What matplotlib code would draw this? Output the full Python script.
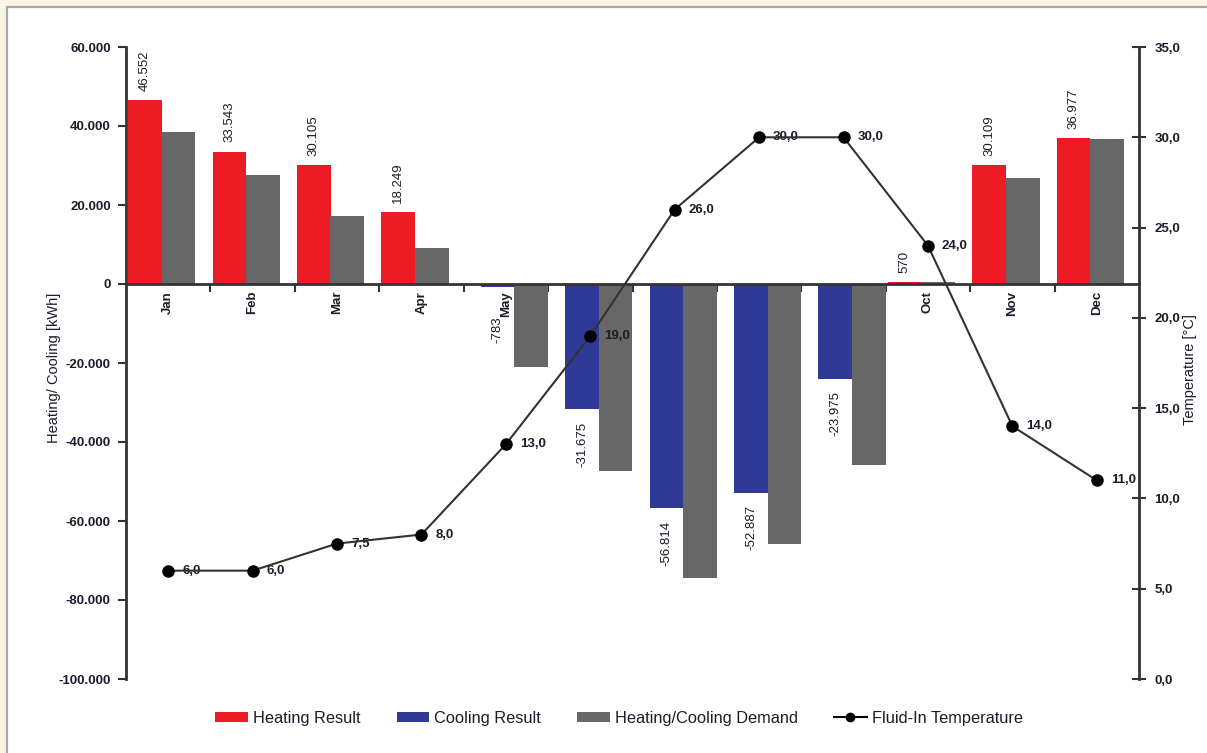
import numpy as np
import matplotlib
matplotlib.use("Agg")
import matplotlib.pyplot as plt
from matplotlib.patches import Rectangle, Patch
from matplotlib.lines import Line2D
from matplotlib.ticker import FuncFormatter, FixedLocator

# ---------------- data ----------------
months = ['Jan', 'Feb', 'Mar', 'Apr', 'May', 'June', 'July', 'Aug', 'Sept', 'Oct', 'Nov', 'Dec']
heating_result = [46552, 33543, 30105, 18249, np.nan, np.nan, np.nan, np.nan, np.nan, 570, 30109, 36977]
heating_demand = [38500, 27600, 17300, 9200, np.nan, np.nan, np.nan, np.nan, np.nan, 500, 26900, 36600]
cooling_result = [np.nan, np.nan, np.nan, np.nan, -783, -31675, -56814, -52887, -23975, np.nan, np.nan, np.nan]
cooling_demand = [np.nan, np.nan, np.nan, np.nan, -21000, -47300, -74400, -65700, -45800, np.nan, np.nan, np.nan]
temperature = [6.0, 6.0, 7.5, 8.0, 13.0, 19.0, 26.0, 30.0, 30.0, 24.0, 14.0, 11.0]
left_ticks = [-100000, -80000, -60000, -40000, -20000, 0, 20000, 40000, 60000]
right_ticks = [0, 5, 10, 15, 20, 25, 30, 35]

# ---------------- style ----------------
RED = '#ED1C24'
BLUE = '#2E3A95'
GRAY = '#676767'
TXT = '#1c1c2c'
FONT = 'Liberation Sans'
plt.rcParams['font.family'] = [FONT, 'DejaVu Sans']

W, H = 1207, 753
fig = plt.figure(figsize=(W / 100, H / 100), dpi=100)
fig.patch.set_facecolor('#FDF5E4')
fig.patches.append(Rectangle((7 / W, -0.05), 1.1, 1 - 7 / H + 0.05, transform=fig.transFigure,
                             facecolor='white', edgecolor='#a9a9a9', lw=1.6, zorder=-10))

ax = fig.add_axes([126 / W, 1 - 679 / H, (1139 - 126) / W, (679 - 47) / H])
ax.set_facecolor('none')
ax.spines['bottom'].set_position(('data', 0))
x = np.arange(len(months))
bw = 0.40

hr = np.array(heating_result, dtype=float)
hd = np.array(heating_demand, dtype=float)
cr = np.array(cooling_result, dtype=float)
cd = np.array(cooling_demand, dtype=float)

ax.bar(x - 0.275, np.nan_to_num(hr), bw, color=RED, zorder=2)
ax.bar(x + 0.122, np.nan_to_num(hd), bw, color=GRAY, zorder=2)
ax.bar(x - 0.097, np.nan_to_num(cr), bw, color=BLUE, zorder=2)
ax.bar(x + 0.300, np.nan_to_num(cd), bw, color=GRAY, zorder=2)

def fmt_thousands(v):
    return f"{v:,.0f}".replace(',', '.')

for xi, v in zip(x, hr):
    if not np.isnan(v):
        ax.annotate(fmt_thousands(v), (xi - 0.275, v), xytext=(0, 6.5), textcoords='offset points',
                    rotation=90, ha='center', va='bottom', fontsize=9.5, color=TXT)
for xi, v in zip(x, cr):
    if not np.isnan(v):
        ax.annotate(fmt_thousands(v), (xi - 0.097, min(v, -5000)), xytext=(0, -9), textcoords='offset points',
                    rotation=90, ha='center', va='top', fontsize=9.5, color=TXT)

ax.set_xlim(-0.5, len(months) - 0.5)
ax.set_ylim(left_ticks[0], left_ticks[-1])
ax.set_yticks(left_ticks)
ax.yaxis.set_major_formatter(FuncFormatter(lambda v, p: fmt_thousands(v)))
ax.tick_params(axis='y', direction='out', length=6, width=1.5, colors='#333333', labelcolor=TXT,
               labelsize=9.5, pad=5)
for lab in ax.get_yticklabels():
    lab.set_fontweight('bold')

ax.set_xticks(x)
ax.set_xticklabels(months)
ax.xaxis.set_minor_locator(FixedLocator(np.arange(0.5, len(months) - 0.5, 1.0)))
ax.tick_params(axis='x', which='major', length=0, pad=5, labelrotation=90, labelsize=9.5, labelcolor=TXT)
ax.tick_params(axis='x', which='minor', length=6, width=1.5, direction='out', colors='#333333')
for lab in ax.get_xticklabels():
    lab.set_fontweight('bold')
    lab.set_va('top')

ax.spines['bottom'].set_linewidth(2)
ax.spines['bottom'].set_color('#333333')
ax.spines['bottom'].set_zorder(3)
ax.spines['left'].set_linewidth(2)
ax.spines['left'].set_color('#333333')
ax.spines['top'].set_visible(False)
ax.spines['right'].set_visible(False)

fig.text(54 / W, 1 - 368 / H, 'Heating/ Cooling [kWh]', rotation=90, ha='center', va='center',
         fontsize=10.5, color=TXT)

# ---------------- temperature line ----------------
ax2 = ax.twinx()
ax2.plot(x, temperature, color='#333333', lw=1.5, marker='o', ms=8, mfc='black', mec='black', zorder=5)
for xi, t in zip(x, temperature):
    ax2.annotate(f"{t:.1f}".replace('.', ','), (xi, t), xytext=(10, 0), textcoords='offset points',
                 ha='left', va='center', fontsize=9.5, fontweight='bold', color=TXT)
ax2.set_ylim(right_ticks[0], right_ticks[-1])
ax2.set_yticks(right_ticks)
ax2.yaxis.set_major_formatter(FuncFormatter(lambda v, p: f"{v:.1f}".replace('.', ',')))
ax2.tick_params(axis='y', direction='inout', length=10, width=1.5, colors='#333333', labelcolor=TXT,
                labelsize=9.5, pad=6)
for lab in ax2.get_yticklabels():
    lab.set_fontweight('bold')
for s in ['left', 'top', 'bottom']:
    ax2.spines[s].set_visible(False)
ax2.spines['right'].set_linewidth(2)
ax2.spines['right'].set_color('#333333')

fig.text(1190 / W, 1 - 370 / H, 'Temperature [°C]', rotation=90, ha='center', va='center',
         fontsize=10.5, color=TXT)

# ---------------- legend ----------------
handles = [Patch(facecolor=RED), Patch(facecolor=BLUE), Patch(facecolor=GRAY),
           Line2D([0], [0], color='black', lw=1.5, marker='o', ms=6)]
labels = ['Heating Result', 'Cooling Result', 'Heating/Cooling Demand', 'Fluid-In Temperature']
leg = fig.legend(handles, labels, loc='center', bbox_to_anchor=(619 / W, 1 - 718 / H), ncol=4,
                 frameon=False, fontsize=11.8, handlelength=2.0, handleheight=0.55, handletextpad=0.3,
                 columnspacing=2.2)
for t in leg.get_texts():
    t.set_color(TXT)

fig.savefig('out.png', dpi=100, facecolor=fig.get_facecolor())
